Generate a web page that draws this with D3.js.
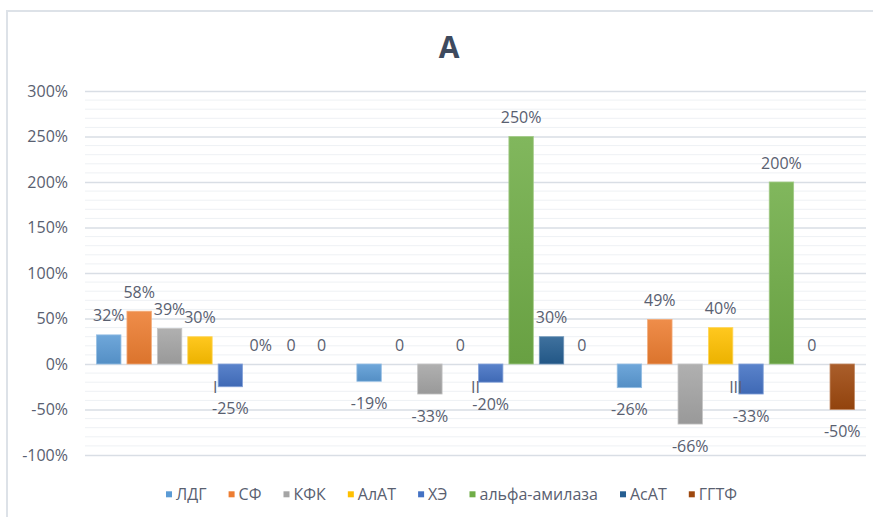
<!DOCTYPE html>
<html>
<head>
<meta charset="utf-8">
<script src="https://cdn.jsdelivr.net/npm/d3@7"></script>
<style>
  html, body { margin: 0; padding: 0; background: #ffffff; }
  svg { display: block; }
  text { font-family: "Open Sans", "Noto Sans", sans-serif; }
</style>
</head>
<body>
<svg id="chart" width="873" height="517"></svg>
<script>
// Chart data
const title = "А";
const categories = ["I", "II", "III"];
const seriesNames = ["ЛДГ", "СФ", "КФК", "АлАТ", "ХЭ", "альфа-амилаза", "АсАТ", "ГГТФ"];
const seriesColors = ["#5b9bd5", "#ed7d31", "#a5a5a5", "#ffc000", "#4472c4", "#70ad47", "#255e91", "#9e480e"];

// Values per series, one entry per category (I, II, III)
const valuesLDG   = [0.32, -0.19, -0.26];
const valuesSF    = [0.58, 0, 0.49];
const valuesKFK   = [0.39, -0.33, -0.66];
const valuesALAT  = [0.30, 0, 0.40];
const valuesXE    = [-0.25, -0.20, -0.33];
const valuesAMYL  = [0, 2.50, 2.00];
const valuesASAT  = [0, 0.30, 0];
const valuesGGTF  = [0, 0, -0.50];
const seriesValues = [valuesLDG, valuesSF, valuesKFK, valuesALAT, valuesXE, valuesAMYL, valuesASAT, valuesGGTF];

// Zero values whose label is written with a percent sign
const percentZeros = [["альфа-амилаза", "I"]];

const yTicks = [-1, -0.5, 0, 0.5, 1, 1.5, 2, 2.5, 3];
const yMinorTicks = d3.range(-10, 31).map(d => d / 10);

// Layout
const svg = d3.select("#chart");
const W = 873, H = 517;
const plot = { left: 85, right: 866, top: 91, bottom: 455 };
const textColor = "#596070";
const fontSize = 16;

const x0 = d3.scaleBand().domain(categories).range([plot.left, plot.right]).padding(0);
const x1 = d3.scaleBand().domain(seriesNames).range([0, x0.bandwidth()])
  .paddingInner(0.197).paddingOuter(0.38);
const y = d3.scaleLinear().domain([-1, 3]).range([plot.bottom, plot.top]);
const color = d3.scaleOrdinal().domain(seriesNames).range(seriesColors);
// Percent format with a plain hyphen as the minus sign
const locale = d3.formatLocale({ decimal: ".", thousands: ",", grouping: [3], currency: ["", ""], minus: "-" });
const pct = locale.format(".0%");

// Chart frame
svg.append("rect").attr("width", W).attr("height", H).attr("fill", "#ffffff");
svg.append("rect")
  .attr("x", 7).attr("y", 11).attr("width", W + 20).attr("height", H + 20)
  .attr("fill", "none").attr("stroke", "#dde2e8").attr("stroke-width", 2);

// Gradients for bar fills
const defs = svg.append("defs");
seriesNames.forEach((name, i) => {
  const base = seriesColors[i];
  const g = defs.append("linearGradient")
    .attr("id", "grad" + i).attr("x1", 0).attr("y1", 0).attr("x2", 0).attr("y2", 1);
  g.append("stop").attr("offset", "0%").attr("stop-color", d3.interpolateRgb(base, "#ffffff")(0.12));
  g.append("stop").attr("offset", "100%").attr("stop-color", d3.color(base).darker(0.22).formatHex());
});

// Gridlines: minor every 10%, major every 50%
svg.append("g").selectAll("line").data(yMinorTicks.filter(t => Math.round(t * 10) % 5 !== 0))
  .join("line")
  .attr("x1", plot.left).attr("x2", plot.right)
  .attr("y1", d => y(d)).attr("y2", d => y(d))
  .attr("stroke", "#eef1f4").attr("stroke-width", 1);

const yAxis = d3.axisLeft(y).tickValues(yTicks).tickFormat(pct)
  .tickSize(-(plot.right - plot.left)).tickPadding(17);
const gy = svg.append("g").attr("transform", `translate(${plot.left},0)`).call(yAxis);
gy.select(".domain").remove();
gy.selectAll(".tick line").attr("stroke", "#d9dee5").attr("stroke-width", 1.3);
gy.selectAll(".tick text")
  .attr("fill", textColor).attr("font-size", fontSize)
  .attr("font-family", "'Open Sans', 'Noto Sans', sans-serif");

// Bars
const cells = [];
categories.forEach((cat, ci) => {
  seriesNames.forEach((name, si) => {
    const v = seriesValues[si][ci];
    const isPctZero = percentZeros.some(p => p[0] === name && p[1] === cat);
    cells.push({ cat, name, si, v, label: v === 0 ? (isPctZero ? "0%" : "0") : pct(v) });
  });
});

const groups = svg.append("g").selectAll("g").data(categories).join("g")
  .attr("transform", d => `translate(${x0(d)},0)`);

groups.selectAll("rect")
  .data(cat => cells.filter(c => c.cat === cat && c.v !== 0))
  .join("rect")
  .attr("x", d => x1(d.name))
  .attr("width", x1.bandwidth())
  .attr("y", d => y(Math.max(0, d.v)))
  .attr("height", d => Math.abs(y(d.v) - y(0)))
  .attr("fill", d => `url(#grad${d.si})`)
  .attr("stroke", d => d3.interpolateRgb(color(d.name), "#ffffff")(0.35))
  .attr("stroke-width", 0.8);

// Category labels sit just below the zero line
svg.append("g").selectAll("text").data(categories).join("text")
  .attr("x", d => x0(d) + x0.bandwidth() / 2)
  .attr("y", y(0) + 23)
  .attr("dy", "0.35em")
  .attr("text-anchor", "middle")
  .attr("fill", textColor).attr("font-size", fontSize)
  .text(d => d);

// Data labels
groups.selectAll("text.val")
  .data(cat => cells.filter(c => c.cat === cat))
  .join("text")
  .attr("class", "val")
  .attr("x", d => x1(d.name) + x1.bandwidth() / 2)
  .attr("y", d => d.v < 0 ? y(d.v) + 22 : y(d.v) - 19)
  .attr("dy", "0.35em")
  .attr("text-anchor", "middle")
  .attr("fill", textColor).attr("font-size", fontSize)
  .text(d => d.label);

// Title
svg.append("text")
  .attr("x", 449).attr("y", 58)
  .attr("text-anchor", "middle")
  .attr("font-size", 30).attr("font-weight", "bold")
  .attr("fill", "#3e4a5e")
  .text(title);

// Legend, spread across a fixed span
const legendLeft = 166, legendRight = 737, legendY = 494.3, sq = 6, sqGap = 4;
const legend = svg.append("g");
const items = legend.selectAll("g").data(seriesNames).join("g");
items.append("rect")
  .attr("width", sq).attr("height", sq)
  .attr("y", legendY - sq / 2)
  .attr("fill", d => color(d));
items.append("text")
  .attr("y", legendY).attr("dy", "0.35em")
  .attr("fill", textColor).attr("font-size", fontSize)
  .text(d => d);
const widths = [];
items.each(function () {
  widths.push(sq + sqGap + d3.select(this).select("text").node().getComputedTextLength());
});
const totalW = d3.sum(widths);
const gap = (legendRight - legendLeft - totalW) / (seriesNames.length - 1);
let cx = legendLeft;
items.each(function (d, i) {
  const g = d3.select(this);
  g.select("rect").attr("x", cx);
  g.select("text").attr("x", cx + sq + sqGap);
  cx += widths[i] + gap;
});
</script>
</body>
</html>
